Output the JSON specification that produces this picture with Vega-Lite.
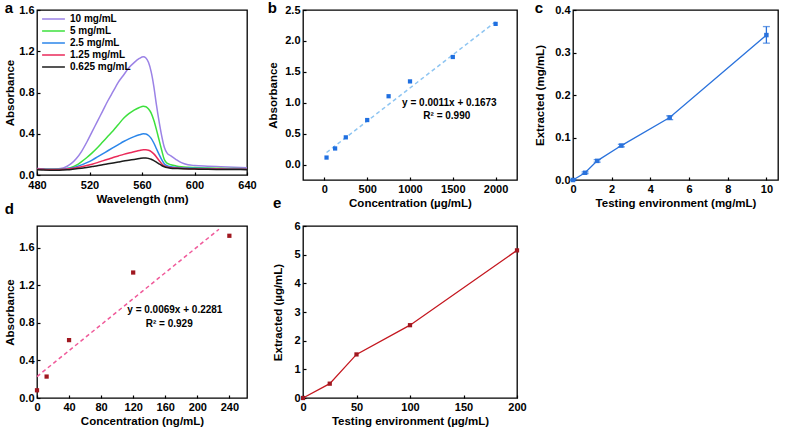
{
"$schema": "https://vega.github.io/schema/vega-lite/v6.json",
"padding": {"left": 4, "top": 0, "right": 0, "bottom": 0},
"background": "white",
"config": {
 "font": "Liberation Sans",
 "view": {"stroke": "black", "strokeWidth": 1.3},
 "axis": {"grid": false, "domain": false, "labelFont": "Liberation Sans", "labelFontWeight": "bold", "labelFontSize": 11, "labelColor": "black", "titleFont": "Liberation Sans", "titleFontWeight": "bold", "titleFontSize": 11.5, "titleColor": "black", "tickColor": "black", "tickWidth": 1.2, "tickSize": -3, "labelPadding": 6, "titlePadding": 3, "labelFlush": false, "labelOverlap": false},
 "title": {"font": "Liberation Sans", "fontSize": 15, "fontWeight": "bold", "color": "black", "anchor": "start", "frame": "bounds", "offset": 0, "baseline": "alphabetic"}
},
"columns": 3,
"spacing": {"row": 46, "column": 56},
"bounds": "flush",
"align": "each",
"datasets": {
 "spectra": [
{"w":480,"s":"10 mg/mL","v":0.062},{"w":485,"s":"10 mg/mL","v":0.058},{"w":490,"s":"10 mg/mL","v":0.056},{"w":495,"s":"10 mg/mL","v":0.058},{"w":500,"s":"10 mg/mL","v":0.068},{"w":503,"s":"10 mg/mL","v":0.085},{"w":506,"s":"10 mg/mL","v":0.11},{"w":510,"s":"10 mg/mL","v":0.16},{"w":514,"s":"10 mg/mL","v":0.23},{"w":518,"s":"10 mg/mL","v":0.32},{"w":522,"s":"10 mg/mL","v":0.42},{"w":526,"s":"10 mg/mL","v":0.52},{"w":530,"s":"10 mg/mL","v":0.62},{"w":534,"s":"10 mg/mL","v":0.72},{"w":538,"s":"10 mg/mL","v":0.81},{"w":542,"s":"10 mg/mL","v":0.9},{"w":546,"s":"10 mg/mL","v":0.97},{"w":550,"s":"10 mg/mL","v":1.04},{"w":554,"s":"10 mg/mL","v":1.09},{"w":558,"s":"10 mg/mL","v":1.13},{"w":561,"s":"10 mg/mL","v":1.147},{"w":563,"s":"10 mg/mL","v":1.135},{"w":565,"s":"10 mg/mL","v":1.09},{"w":567,"s":"10 mg/mL","v":1.0},{"w":569,"s":"10 mg/mL","v":0.86},{"w":571,"s":"10 mg/mL","v":0.68},{"w":573,"s":"10 mg/mL","v":0.52},{"w":575,"s":"10 mg/mL","v":0.38},{"w":577,"s":"10 mg/mL","v":0.27},{"w":579,"s":"10 mg/mL","v":0.215},{"w":582,"s":"10 mg/mL","v":0.185},{"w":586,"s":"10 mg/mL","v":0.15},{"w":590,"s":"10 mg/mL","v":0.12},{"w":595,"s":"10 mg/mL","v":0.1},{"w":600,"s":"10 mg/mL","v":0.092},{"w":610,"s":"10 mg/mL","v":0.085},{"w":620,"s":"10 mg/mL","v":0.08},{"w":630,"s":"10 mg/mL","v":0.075},{"w":640,"s":"10 mg/mL","v":0.07},
{"w":480,"s":"5 mg/mL","v":0.06},{"w":485,"s":"5 mg/mL","v":0.058},{"w":490,"s":"5 mg/mL","v":0.055},{"w":495,"s":"5 mg/mL","v":0.055},{"w":500,"s":"5 mg/mL","v":0.058},{"w":503,"s":"5 mg/mL","v":0.064},{"w":506,"s":"5 mg/mL","v":0.073},{"w":510,"s":"5 mg/mL","v":0.095},{"w":514,"s":"5 mg/mL","v":0.13},{"w":518,"s":"5 mg/mL","v":0.17},{"w":522,"s":"5 mg/mL","v":0.215},{"w":526,"s":"5 mg/mL","v":0.265},{"w":530,"s":"5 mg/mL","v":0.32},{"w":534,"s":"5 mg/mL","v":0.375},{"w":538,"s":"5 mg/mL","v":0.43},{"w":542,"s":"5 mg/mL","v":0.49},{"w":546,"s":"5 mg/mL","v":0.55},{"w":550,"s":"5 mg/mL","v":0.595},{"w":554,"s":"5 mg/mL","v":0.63},{"w":558,"s":"5 mg/mL","v":0.655},{"w":561,"s":"5 mg/mL","v":0.667},{"w":563,"s":"5 mg/mL","v":0.662},{"w":565,"s":"5 mg/mL","v":0.64},{"w":567,"s":"5 mg/mL","v":0.6},{"w":569,"s":"5 mg/mL","v":0.53},{"w":571,"s":"5 mg/mL","v":0.44},{"w":573,"s":"5 mg/mL","v":0.34},{"w":575,"s":"5 mg/mL","v":0.24},{"w":577,"s":"5 mg/mL","v":0.15},{"w":579,"s":"5 mg/mL","v":0.115},{"w":582,"s":"5 mg/mL","v":0.1},{"w":586,"s":"5 mg/mL","v":0.088},{"w":590,"s":"5 mg/mL","v":0.08},{"w":595,"s":"5 mg/mL","v":0.075},{"w":600,"s":"5 mg/mL","v":0.072},{"w":610,"s":"5 mg/mL","v":0.068},{"w":620,"s":"5 mg/mL","v":0.065},{"w":630,"s":"5 mg/mL","v":0.062},{"w":640,"s":"5 mg/mL","v":0.06},
{"w":480,"s":"2.5 mg/mL","v":0.06},{"w":485,"s":"2.5 mg/mL","v":0.057},{"w":490,"s":"2.5 mg/mL","v":0.055},{"w":495,"s":"2.5 mg/mL","v":0.055},{"w":500,"s":"2.5 mg/mL","v":0.057},{"w":503,"s":"2.5 mg/mL","v":0.062},{"w":506,"s":"2.5 mg/mL","v":0.068},{"w":510,"s":"2.5 mg/mL","v":0.08},{"w":514,"s":"2.5 mg/mL","v":0.098},{"w":518,"s":"2.5 mg/mL","v":0.12},{"w":522,"s":"2.5 mg/mL","v":0.145},{"w":526,"s":"2.5 mg/mL","v":0.175},{"w":530,"s":"2.5 mg/mL","v":0.205},{"w":534,"s":"2.5 mg/mL","v":0.235},{"w":538,"s":"2.5 mg/mL","v":0.265},{"w":542,"s":"2.5 mg/mL","v":0.295},{"w":546,"s":"2.5 mg/mL","v":0.325},{"w":550,"s":"2.5 mg/mL","v":0.35},{"w":554,"s":"2.5 mg/mL","v":0.372},{"w":558,"s":"2.5 mg/mL","v":0.39},{"w":561,"s":"2.5 mg/mL","v":0.4},{"w":563,"s":"2.5 mg/mL","v":0.398},{"w":565,"s":"2.5 mg/mL","v":0.383},{"w":567,"s":"2.5 mg/mL","v":0.355},{"w":569,"s":"2.5 mg/mL","v":0.31},{"w":571,"s":"2.5 mg/mL","v":0.255},{"w":573,"s":"2.5 mg/mL","v":0.2},{"w":575,"s":"2.5 mg/mL","v":0.15},{"w":577,"s":"2.5 mg/mL","v":0.11},{"w":579,"s":"2.5 mg/mL","v":0.09},{"w":582,"s":"2.5 mg/mL","v":0.08},{"w":586,"s":"2.5 mg/mL","v":0.075},{"w":590,"s":"2.5 mg/mL","v":0.07},{"w":595,"s":"2.5 mg/mL","v":0.067},{"w":600,"s":"2.5 mg/mL","v":0.065},{"w":610,"s":"2.5 mg/mL","v":0.062},{"w":620,"s":"2.5 mg/mL","v":0.06},{"w":630,"s":"2.5 mg/mL","v":0.058},{"w":640,"s":"2.5 mg/mL","v":0.057},
{"w":480,"s":"1.25 mg/mL","v":0.058},{"w":485,"s":"1.25 mg/mL","v":0.055},{"w":490,"s":"1.25 mg/mL","v":0.053},{"w":495,"s":"1.25 mg/mL","v":0.053},{"w":500,"s":"1.25 mg/mL","v":0.055},{"w":503,"s":"1.25 mg/mL","v":0.058},{"w":506,"s":"1.25 mg/mL","v":0.062},{"w":510,"s":"1.25 mg/mL","v":0.07},{"w":514,"s":"1.25 mg/mL","v":0.08},{"w":518,"s":"1.25 mg/mL","v":0.092},{"w":522,"s":"1.25 mg/mL","v":0.105},{"w":526,"s":"1.25 mg/mL","v":0.12},{"w":530,"s":"1.25 mg/mL","v":0.137},{"w":534,"s":"1.25 mg/mL","v":0.153},{"w":538,"s":"1.25 mg/mL","v":0.17},{"w":542,"s":"1.25 mg/mL","v":0.185},{"w":546,"s":"1.25 mg/mL","v":0.2},{"w":550,"s":"1.25 mg/mL","v":0.213},{"w":554,"s":"1.25 mg/mL","v":0.225},{"w":558,"s":"1.25 mg/mL","v":0.238},{"w":561,"s":"1.25 mg/mL","v":0.245},{"w":563,"s":"1.25 mg/mL","v":0.245},{"w":565,"s":"1.25 mg/mL","v":0.24},{"w":567,"s":"1.25 mg/mL","v":0.227},{"w":569,"s":"1.25 mg/mL","v":0.205},{"w":571,"s":"1.25 mg/mL","v":0.175},{"w":573,"s":"1.25 mg/mL","v":0.14},{"w":575,"s":"1.25 mg/mL","v":0.11},{"w":577,"s":"1.25 mg/mL","v":0.088},{"w":579,"s":"1.25 mg/mL","v":0.077},{"w":582,"s":"1.25 mg/mL","v":0.07},{"w":586,"s":"1.25 mg/mL","v":0.067},{"w":590,"s":"1.25 mg/mL","v":0.065},{"w":595,"s":"1.25 mg/mL","v":0.062},{"w":600,"s":"1.25 mg/mL","v":0.06},{"w":610,"s":"1.25 mg/mL","v":0.058},{"w":620,"s":"1.25 mg/mL","v":0.057},{"w":630,"s":"1.25 mg/mL","v":0.056},{"w":640,"s":"1.25 mg/mL","v":0.055},
{"w":480,"s":"0.625 mg/mL","v":0.05},{"w":485,"s":"0.625 mg/mL","v":0.048},{"w":490,"s":"0.625 mg/mL","v":0.047},{"w":495,"s":"0.625 mg/mL","v":0.047},{"w":500,"s":"0.625 mg/mL","v":0.049},{"w":503,"s":"0.625 mg/mL","v":0.051},{"w":506,"s":"0.625 mg/mL","v":0.054},{"w":510,"s":"0.625 mg/mL","v":0.06},{"w":514,"s":"0.625 mg/mL","v":0.066},{"w":518,"s":"0.625 mg/mL","v":0.073},{"w":522,"s":"0.625 mg/mL","v":0.082},{"w":526,"s":"0.625 mg/mL","v":0.09},{"w":530,"s":"0.625 mg/mL","v":0.1},{"w":534,"s":"0.625 mg/mL","v":0.108},{"w":538,"s":"0.625 mg/mL","v":0.117},{"w":542,"s":"0.625 mg/mL","v":0.126},{"w":546,"s":"0.625 mg/mL","v":0.135},{"w":550,"s":"0.625 mg/mL","v":0.143},{"w":554,"s":"0.625 mg/mL","v":0.151},{"w":558,"s":"0.625 mg/mL","v":0.159},{"w":561,"s":"0.625 mg/mL","v":0.165},{"w":563,"s":"0.625 mg/mL","v":0.165},{"w":565,"s":"0.625 mg/mL","v":0.161},{"w":567,"s":"0.625 mg/mL","v":0.153},{"w":569,"s":"0.625 mg/mL","v":0.14},{"w":571,"s":"0.625 mg/mL","v":0.125},{"w":573,"s":"0.625 mg/mL","v":0.108},{"w":575,"s":"0.625 mg/mL","v":0.092},{"w":577,"s":"0.625 mg/mL","v":0.08},{"w":579,"s":"0.625 mg/mL","v":0.072},{"w":582,"s":"0.625 mg/mL","v":0.066},{"w":586,"s":"0.625 mg/mL","v":0.063},{"w":590,"s":"0.625 mg/mL","v":0.06},{"w":595,"s":"0.625 mg/mL","v":0.058},{"w":600,"s":"0.625 mg/mL","v":0.057},{"w":610,"s":"0.625 mg/mL","v":0.055},{"w":620,"s":"0.625 mg/mL","v":0.054},{"w":630,"s":"0.625 mg/mL","v":0.053},{"w":640,"s":"0.625 mg/mL","v":0.052}
 ],
 "bPts": [{"x":25,"y":0.113},{"x":125,"y":0.26},{"x":250,"y":0.44},{"x":500,"y":0.72},{"x":750,"y":1.105},{"x":1000,"y":1.345},{"x":1500,"y":1.74},{"x":2000,"y":2.275}],
 "bFit": [{"x":25,"y":0.195},{"x":2000,"y":2.31}],
 "bTxt": [{"x":1460,"y":1.0,"t":"y = 0.0011x + 0.1673"},{"x":1430,"y":0.78,"t":"R² = 0.990"}],
 "cPts": [{"x":0,"y":0,"lo":0,"hi":0},{"x":0.625,"y":0.017,"lo":0.015,"hi":0.019},{"x":1.25,"y":0.045,"lo":0.042,"hi":0.048},{"x":2.5,"y":0.081,"lo":0.078,"hi":0.084},{"x":5,"y":0.147,"lo":0.142,"hi":0.151},{"x":10,"y":0.341,"lo":0.322,"hi":0.361}],
 "dPts": [{"x":0,"y":0.082},{"x":12,"y":0.228},{"x":40,"y":0.616},{"x":120,"y":1.335},{"x":240,"y":1.726}],
 "dFit": [{"x":0,"y":0.228},{"x":227,"y":1.795}],
 "dTxt": [{"x":172,"y":0.935,"t":"y = 0.0069x + 0.2281"},{"x":165,"y":0.79,"t":"R² = 0.929"}],
 "ePts": [{"x":0,"y":0},{"x":25,"y":0.5},{"x":50,"y":1.52},{"x":100,"y":2.54},{"x":200,"y":5.15}]
},
"concat": [
 {
  "width": 210, "height": 165,
  "title": {"text": "a", "dy": 16},
  "data": {"name": "spectra"},
  "mark": {"type": "line", "strokeWidth": 1.5, "interpolate": "monotone"},
  "encoding": {
   "x": {"field": "w", "type": "quantitative", "scale": {"domain": [480, 640], "nice": false}, "axis": {"title": "Wavelength (nm)", "values": [480, 520, 560, 600, 640], "labelPadding": 7}},
   "y": {"field": "v", "type": "quantitative", "scale": {"domain": [0, 1.6], "nice": false}, "axis": {"title": "Absorbance", "values": [0, 0.4, 0.8, 1.2, 1.6], "format": ".1f"}},
   "color": {"field": "s", "type": "nominal", "sort": null,
     "scale": {"domain": ["10 mg/mL", "5 mg/mL", "2.5 mg/mL", "1.25 mg/mL", "0.625 mg/mL"], "range": ["#9b82e6", "#3de03d", "#2b86ea", "#ea2a5a", "#1c1c1c"]},
     "legend": {"title": null, "orient": "top-left", "offset": 4, "padding": 0, "symbolType": "stroke", "symbolSize": 520, "symbolStrokeWidth": 1.6, "labelFontSize": 10, "labelFontWeight": "bold", "labelFont": "Liberation Sans", "labelColor": "black", "clipHeight": 10, "rowPadding": 2, "labelOffset": 4}}
  }
 },
 {
  "width": 214, "height": 170,
  "title": {"text": "b", "dy": 16},
  "layer": [
   {"data": {"name": "bFit"}, "mark": {"type": "line", "color": "#8ec5f2", "strokeWidth": 1.5, "strokeDash": [4, 3]},
    "encoding": {"x": {"field": "x", "type": "quantitative"}, "y": {"field": "y", "type": "quantitative"}}},
   {"data": {"name": "bPts"}, "mark": {"type": "point", "shape": "square", "filled": true, "size": 18, "color": "#1f6fe0", "opacity": 1},
    "encoding": {"x": {"field": "x", "type": "quantitative"}, "y": {"field": "y", "type": "quantitative"}}},
   {"data": {"name": "bTxt"}, "mark": {"type": "text", "font": "Liberation Sans", "fontWeight": "bold", "fontSize": 10, "color": "black"},
    "encoding": {"x": {"field": "x", "type": "quantitative"}, "y": {"field": "y", "type": "quantitative"}, "text": {"field": "t"}}}
  ],
  "encoding": {
   "x": {"field": "x", "type": "quantitative", "scale": {"domain": [-250, 2250], "nice": false, "zero": false}, "axis": {"title": "Concentration (µg/mL)", "values": [0, 500, 1000, 1500, 2000], "format": "d"}},
   "y": {"field": "y", "type": "quantitative", "scale": {"domain": [-0.25, 2.5], "nice": false, "zero": false}, "axis": {"title": "Absorbance", "values": [0, 0.5, 1, 1.5, 2, 2.5], "format": ".1f", "titlePadding": 6}}
  }
 },
 {
  "width": 205, "height": 170,
  "title": {"text": "c", "dy": 16},
  "data": {"name": "cPts"},
  "layer": [
   {"mark": {"type": "line", "color": "#2a72dc", "strokeWidth": 1.3}},
   {"mark": {"type": "rule", "color": "#2a72dc", "strokeWidth": 1.3}, "encoding": {"y": {"field": "lo", "type": "quantitative"}, "y2": {"field": "hi"}}},
   {"mark": {"type": "tick", "color": "#2a72dc", "orient": "horizontal", "size": 7, "thickness": 1.3}, "encoding": {"y": {"field": "lo", "type": "quantitative"}}},
   {"mark": {"type": "tick", "color": "#2a72dc", "orient": "horizontal", "size": 7, "thickness": 1.3}, "encoding": {"y": {"field": "hi", "type": "quantitative"}}},
   {"mark": {"type": "point", "shape": "square", "filled": true, "size": 20, "color": "#2a72dc", "opacity": 1}}
  ],
  "encoding": {
   "x": {"field": "x", "type": "quantitative", "scale": {"domain": [0, 10.6], "nice": false}, "axis": {"title": "Testing environment (mg/mL)", "values": [0, 2, 4, 6, 8, 10]}},
   "y": {"field": "y", "type": "quantitative", "scale": {"domain": [0, 0.4], "nice": false}, "axis": {"title": "Extracted (mg/mL)", "values": [0, 0.1, 0.2, 0.3, 0.4], "format": ".1f", "titlePadding": 9}}
  }
 },
 {
  "width": 210, "height": 172,
  "title": {"text": "d", "dy": -5},
  "layer": [
   {"data": {"name": "dFit"}, "mark": {"type": "line", "color": "#f05a9a", "strokeWidth": 1.5, "strokeDash": [4, 3]},
    "encoding": {"x": {"field": "x", "type": "quantitative"}, "y": {"field": "y", "type": "quantitative"}}},
   {"data": {"name": "dPts"}, "mark": {"type": "point", "shape": "square", "filled": true, "size": 18, "color": "#a01820", "opacity": 1},
    "encoding": {"x": {"field": "x", "type": "quantitative"}, "y": {"field": "y", "type": "quantitative"}}},
   {"data": {"name": "dTxt"}, "mark": {"type": "text", "font": "Liberation Sans", "fontWeight": "bold", "fontSize": 10, "color": "black"},
    "encoding": {"x": {"field": "x", "type": "quantitative"}, "y": {"field": "y", "type": "quantitative"}, "text": {"field": "t"}}}
  ],
  "encoding": {
   "x": {"field": "x", "type": "quantitative", "scale": {"domain": [0, 262], "nice": false}, "axis": {"title": "Concentration (ng/mL)", "values": [0, 40, 80, 120, 160, 200, 240]}},
   "y": {"field": "y", "type": "quantitative", "scale": {"domain": [0, 1.83], "nice": false}, "axis": {"title": "Absorbance", "values": [0, 0.4, 0.8, 1.2, 1.6], "format": ".1f"}}
  }
 },
 {
  "width": 214, "height": 172,
  "title": {"text": "e", "dy": -5},
  "data": {"name": "ePts"},
  "layer": [
   {"mark": {"type": "line", "color": "#c4171f", "strokeWidth": 1.3}},
   {"mark": {"type": "point", "shape": "square", "filled": true, "size": 18, "color": "#a01820", "opacity": 1}}
  ],
  "encoding": {
   "x": {"field": "x", "type": "quantitative", "scale": {"domain": [0, 200], "nice": false}, "axis": {"title": "Testing environment (µg/mL)", "values": [0, 50, 100, 150, 200]}},
   "y": {"field": "y", "type": "quantitative", "scale": {"domain": [0, 6], "nice": false}, "axis": {"title": "Extracted (µg/mL)", "values": [0, 1, 2, 3, 4, 5, 6], "titlePadding": 10}}
  }
 }
]
}
